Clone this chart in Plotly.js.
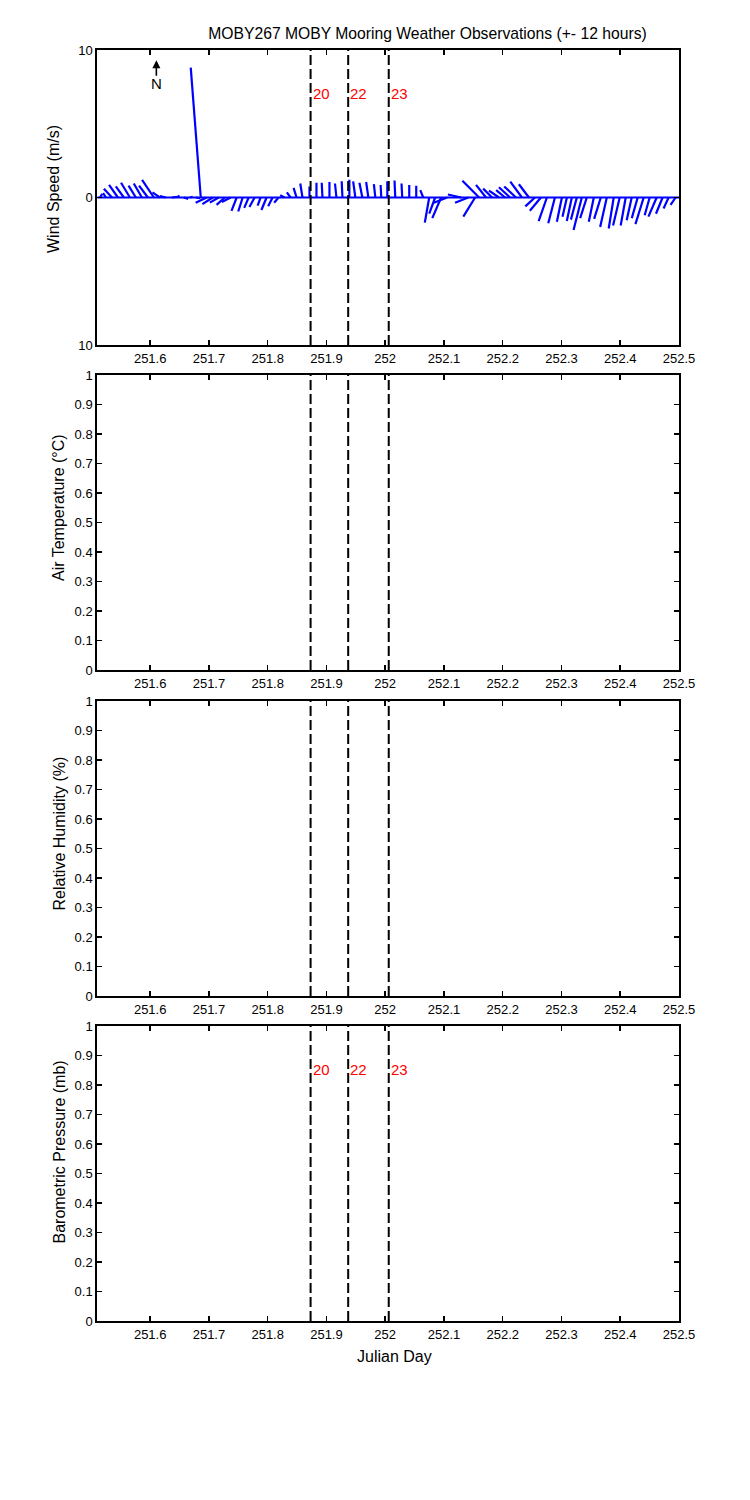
<!DOCTYPE html>
<html>
<head>
<meta charset="utf-8">
<script src="https://cdn.plot.ly/plotly-3.0.1.min.js"></script>
<style>body{margin:0;background:#fff}</style>
</head>
<body>
<div id="chart" style="width:750px;height:1500px"></div>
<script>
// julian day of each wind sample
var stickTime = [
  251.5146, 251.5248, 251.5350, 251.5451, 251.5553, 251.5655, 251.5757, 251.5859, 251.5961, 251.6063,
  251.6165, 251.6266, 251.6368, 251.6470, 251.6572, 251.6674, 251.6776, 251.6861,
  251.6962, 251.7064, 251.7166, 251.7268, 251.7370, 251.7472, 251.7574, 251.7676, 251.7777, 251.7879, 251.7981, 251.8083, 251.8185,
  251.8287, 251.8389, 251.8491, 251.8592,
  251.8711, 251.8830, 251.8932, 251.9051, 251.9170, 251.9272, 251.9390, 251.9492, 251.9611, 251.9713, 251.9832, 251.9934, 252.0036,
  252.0171, 252.0290, 252.0409, 252.0528, 252.0647,
  252.0749, 252.0850, 252.0952, 252.1054, 252.1292, 252.1414, 252.1530,
  252.1598, 252.1716, 252.1818, 252.1937, 252.2039, 252.2124, 252.2226, 252.2327, 252.2446,
  252.2548, 252.2650, 252.2752, 252.2888, 252.3007, 252.3092, 252.3176, 252.3261, 252.3346, 252.3431,
  252.3550, 252.3669, 252.3771, 252.3889, 252.3991, 252.4093, 252.4195, 252.4297, 252.4399, 252.4501,
  252.4620, 252.4721, 252.4823, 252.4942
];
// east component (m/s)
var windU = [
  0.15, -0.2, -0.55, -0.6, -0.55, -0.6, -0.5, -0.55, -0.6, -0.8,
  -0.5, -0.4, 0.4, 0.1, 0.3, 0.2, 0.3, -0.68,
  -0.75, -0.7, -0.6, -0.55, -0.6, -0.35, -0.3, -0.3, -0.35, -0.2, -0.35, -0.3, -0.3,
  -0.3, -0.25, -0.2, -0.15,
  0, 0, -0.05, 0, -0.1, -0.05, 0, -0.15, -0.2, -0.15, -0.1, -0.05, 0,
  -0.05, -0.05, 0, 0, -0.2,
  -0.3, -0.4, -0.6, -0.9, -0.9, -0.9, -0.8,
  -1.13, -0.68, -0.6, -0.68, -0.6, -0.75, -0.8, -0.79, -0.68,
  -0.65, -0.75, -0.56, -0.45, -0.34, -0.3, -0.34, -0.4, -0.56, -0.45,
  -0.34, -0.45, -0.45, -0.34, -0.45, -0.34, -0.34, -0.4, -0.56, -0.34,
  -0.56, -0.45, -0.34, -0.34
];
// north component (m/s)
var windV = [
  0.25, 0.3, 0.6, 0.85, 0.75, 1.0, 0.8, 0.95, 0.8, 1.2,
  0.35, 0.1, 0.05, 0.15, -0.1, 0.05, -0.05, 8.8,
  -0.35, -0.45, -0.35, -0.5, -0.3, -0.9, -0.95, -0.7, -0.65, -0.55, -0.85, -0.6, -0.35,
  0.15, 0.35, 0.65, 0.95,
  0.75, 1.0, 1.0, 1.05, 0.95, 1.1, 1.2, 1.1, 1.0, 1.05, 0.9, 0.85, 1.1,
  1.15, 0.95, 0.85, 0.8, 0.5,
  -1.7, -1.1, -1.4, -0.35, 0.2, -0.35, -1.3,
  1.14, 0.86, 0.6, 0.47, 0.5, 0.7, 0.75, 1.08, 0.9,
  -0.6, -0.9, -1.6, -1.75, -1.64, -1.3, -1.6, -1.5, -2.2, -1.4,
  -1.64, -1.45, -2.0, -2.1, -1.9, -1.9, -1.55, -1.4, -1.8, -1.2,
  -1.3, -1.1, -0.75, -0.5
];

var dayRange = [251.51, 252.5];
var dayTicks = [251.6, 251.7, 251.8, 251.9, 252, 252.1, 252.2, 252.3, 252.4, 252.5];
var dayTickText = ['251.6', '251.7', '251.8', '251.9', '252', '252.1', '252.2', '252.3', '252.4', '252.5'];
var fracTicks = [0, 0.1, 0.2, 0.3, 0.4, 0.5, 0.6, 0.7, 0.8, 0.9, 1];
var fracTickText = ['0', '0.1', '0.2', '0.3', '0.4', '0.5', '0.6', '0.7', '0.8', '0.9', '1'];
var windTicks = [-10, 0, 10];
var windTickText = ['10', '0', '10'];

// station markers (dashed lines)
var markerTime = [251.873, 251.937, 252.006];
var markerLabel = ['20', '22', '23'];

var panelTitles = ['Wind Speed (m/s)', 'Air Temperature (\u00B0C)', 'Relative Humidity (%)', 'Barometric Pressure (mb)'];

var W = 750, H = 1500;
var xDomain = [97.3 / W, 679 / W];
var panelPx = [[50, 345], [375, 670], [701, 996], [1026, 1321]];
// where the ylabels sit (px), as in the original figure
var labelPxX = [53, 58, 58.5, 58.5];
var labelPxY = [189, 508, 834, 1152];

var font = 'Liberation Sans, Arial, sans-serif';

// scale so sticks keep the same px/unit in x as in y
var plotW = (xDomain[1] - xDomain[0]) * W;
var plotH = panelPx[0][1] - panelPx[0][0];
var dayPerMs = (plotH / 20) / (plotW / (dayRange[1] - dayRange[0]));

var sx = [], sy = [];
for (var i = 0; i < stickTime.length; i++) {
  sx.push(stickTime[i], stickTime[i] + windU[i] * dayPerMs, null);
  sy.push(0, windV[i], null);
}

var data = [
  {x: dayRange, y: [0, 0], xaxis: 'x', yaxis: 'y', mode: 'lines',
   line: {color: '#0000ff', width: 2}, hoverinfo: 'skip'},
  {x: sx, y: sy, xaxis: 'x', yaxis: 'y', mode: 'lines',
   line: {color: '#0000ff', width: 2.2}, hoverinfo: 'skip'}
];
// empty traces so every panel is drawn
for (var p = 2; p <= 4; p++) {
  data.push({x: [], y: [], xaxis: 'x' + p, yaxis: 'y' + p, mode: 'lines'});
}

var layout = {
  width: W, height: H,
  margin: {l: 0, r: 0, t: 0, b: 0},
  paper_bgcolor: '#fff', plot_bgcolor: '#fff',
  showlegend: false,
  font: {family: font, size: 13, color: '#000'},
  title: {text: 'MOBY267 MOBY Mooring Weather Observations (+- 12 hours)',
    x: 427.5 / W, xanchor: 'center', y: 1 - 34 / H, yanchor: 'middle',
    font: {family: font, size: 15.7, color: '#000'}},
  shapes: [],
  annotations: []
};

function axisBase() {
  return {showline: true, linecolor: '#000', linewidth: 2, mirror: 'ticks',
    ticks: 'inside', ticklen: 5, tickwidth: 1.5, tickcolor: '#000',
    showgrid: false, zeroline: false, fixedrange: true,
    tickfont: {family: font, size: 13, color: '#000'}};
}

for (var p = 1; p <= 4; p++) {
  var sfx = p === 1 ? '' : String(p);
  var xa = axisBase();
  xa.domain = xDomain;
  xa.range = dayRange;
  xa.tickmode = 'array';
  xa.tickvals = dayTicks;
  xa.ticktext = dayTickText;
  xa.anchor = 'y' + sfx;
  layout['xaxis' + sfx] = xa;

  var ya = axisBase();
  var px = panelPx[p - 1];
  ya.domain = [1 - px[1] / H, 1 - px[0] / H];
  ya.anchor = 'x' + sfx;
  ya.tickmode = 'array';
  if (p === 1) {
    ya.range = [-10, 10];
    ya.tickvals = windTicks;
    ya.ticktext = windTickText;
  } else {
    ya.range = [0, 1];
    ya.tickvals = fracTicks;
    ya.ticktext = fracTickText;
  }
  layout['yaxis' + sfx] = ya;

  for (var m = 0; m < markerTime.length; m++) {
    layout.shapes.push({type: 'line', layer: 'above',
      xref: 'x' + sfx, yref: 'y' + sfx + ' domain',
      x0: markerTime[m], x1: markerTime[m], y0: 0, y1: 1,
      line: {color: '#000', width: 2, dash: '10px,4px'}});
  }

  layout.annotations.push({xref: 'paper', yref: 'paper',
    x: labelPxX[p - 1] / W, y: 1 - labelPxY[p - 1] / H,
    xanchor: 'center', yanchor: 'middle', textangle: -90,
    text: panelTitles[p - 1], showarrow: false,
    font: {family: font, size: 16, color: '#000'}});
}

// red station labels on first and last panel
for (var m = 0; m < markerTime.length; m++) {
  layout.annotations.push({xref: 'x', yref: 'y', x: markerTime[m], y: 7.05,
    xanchor: 'left', yanchor: 'middle', xshift: 0, text: markerLabel[m], showarrow: false,
    font: {family: font, size: 15, color: '#ff0000'}});
  layout.annotations.push({xref: 'x4', yref: 'y4', x: markerTime[m], y: 0.852,
    xanchor: 'left', yanchor: 'middle', xshift: 0, text: markerLabel[m], showarrow: false,
    font: {family: font, size: 15, color: '#ff0000'}});
}

// north arrow
layout.annotations.push({xref: 'x', yref: 'y', axref: 'x', ayref: 'y',
  x: 251.6105, y: 9.3, ax: 251.6105, ay: 8.15, text: '', showarrow: true,
  arrowhead: 2, arrowsize: 1, arrowwidth: 1.6, arrowcolor: '#000'});
layout.annotations.push({xref: 'x', yref: 'y', x: 251.6105, y: 7.75,
  text: 'N', showarrow: false, font: {family: font, size: 15, color: '#000'}});

// x label under bottom panel
layout.annotations.push({xref: 'paper', yref: 'paper', x: 394 / W, y: 1 - 1356 / H,
  xanchor: 'center', yanchor: 'middle', text: 'Julian Day', showarrow: false,
  font: {family: font, size: 16, color: '#000'}});

Plotly.newPlot('chart', data, layout, {staticPlot: true});
</script>
</body>
</html>
